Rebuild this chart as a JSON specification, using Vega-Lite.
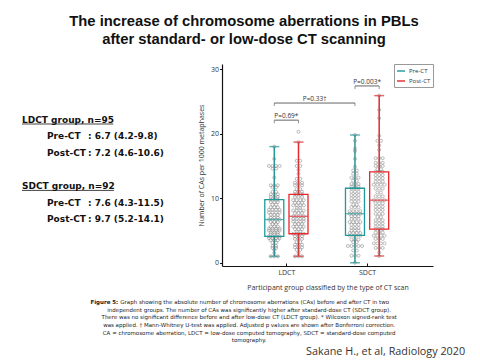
{
"$schema":"https://vega.github.io/schema/vega-lite/v6.json",
"background":"white",
"padding":{"left":0,"top":14,"right":0,"bottom":0},
"title":{"text":["The increase of chromosome aberrations in PBLs","after standard- or low-dose CT scanning"],"font":"Liberation Sans","fontSize":14.8,"fontWeight":"bold","color":"#111","anchor":"middle","lineHeight":18,"offset":16.7,"dx":4},
"config":{"view":{"stroke":null},"font":"Open Sans","axis":{"grid":false,"labelOverlap":false,"domainColor":"#111","domainWidth":1.2,"tickColor":"#111","labelFont":"Open Sans","labelFontSize":7,"labelColor":"#333","titleFont":"Open Sans","titleFontSize":7,"titleFontWeight":"normal","titleColor":"#333"}},
"datasets":{
"box":[
{"s":"Pre-CT","g":"LDCT","p":0.85,"lo":1.0,"q1":4.1,"md":6.7,"q3":9.8,"hi":18.0},
{"s":"Post-CT","g":"LDCT","p":1.15,"lo":1.0,"q1":4.5,"md":7.2,"q3":10.6,"hi":18.7},
{"s":"Pre-CT","g":"SDCT","p":1.85,"lo":0.0,"q1":4.25,"md":7.6,"q3":11.55,"hi":19.8},
{"s":"Post-CT","g":"SDCT","p":2.15,"lo":1.05,"q1":5.2,"md":9.7,"q3":14.1,"hi":25.9}],
"br":[
{"a":0.85,"b":1.15,"m":1.0,"y":22.1,"t":"P=0.69*"},
{"a":0.85,"b":1.85,"m":1.35,"y":24.75,"t":"P=0.33†"},
{"a":1.85,"b":2.15,"m":2.0,"y":27.4,"t":"P=0.003*"}],
"left":[
{"r":1,"c":0,"t":"LDCT group, n=95"},
{"r":2,"c":1,"t":"Pre-CT"},{"r":2,"c":2.64,"t":": 6.7 (4.2-9.8)"},
{"r":3,"c":1,"t":"Post-CT"},{"r":3,"c":2.64,"t":": 7.2 (4.6-10.6)"},
{"r":5,"c":0,"t":"SDCT group, n=92"},
{"r":6,"c":1,"t":"Pre-CT"},{"r":6,"c":2.64,"t":": 7.6 (4.3-11.5)"},
{"r":7,"c":1,"t":"Post-CT"},{"r":7,"c":2.64,"t":": 9.7 (5.2-14.1)"}],
"ul":[{"r":1,"c0":0,"c1":3.65},{"r":5,"c0":0,"c1":3.68}],
"cap":[
{"r":1,"x":0.2465,"t":"Figure 5:","k":"b"},
{"r":1,"x":0.2506,"t":"Graph showing the absolute number of chromosome aberrations (CAs) before and after CT in two","k":"l"},
{"r":2,"x":0.519,"t":"independent groups. The number of CAs was significantly higher after standard-dose CT (SDCT group).","k":"c"},
{"r":3,"x":0.519,"t":"There was no significant difference before and after low-dose CT (LDCT group). * Wilcoxon signed-rank test","k":"c"},
{"r":4,"x":0.519,"t":"was applied. † Mann-Whitney U-test was applied. Adjusted p values are shown after Bonferroni correction.","k":"c"},
{"r":5,"x":0.519,"t":"CA = chromosome aberration, LDCT = low-dose computed tomography, SDCT = standard-dose computed","k":"c"},
{"r":6,"x":0.519,"t":"tomography.","k":"c"},
{"r":7.43,"x":0.969,"t":"Sakane H., et al, Radiology 2020","k":"s"}],
"pts":[
{"x":0.85,"v":18},{"x":0.85,"v":16.1},
{"x":0.784,"v":15},{"x":0.828,"v":15},{"x":0.872,"v":15},{"x":0.916,"v":15},
{"x":0.828,"v":14.6},{"x":0.872,"v":14.6},
{"x":0.85,"v":13.2},
{"x":0.806,"v":12},{"x":0.85,"v":12},{"x":0.894,"v":12},
{"x":0.828,"v":11.7},{"x":0.872,"v":11.7},
{"x":0.828,"v":11},{"x":0.872,"v":11},
{"x":0.806,"v":10.6},{"x":0.85,"v":10.6},{"x":0.894,"v":10.6},
{"x":0.806,"v":10.2},{"x":0.85,"v":10.2},{"x":0.894,"v":10.2},
{"x":0.806,"v":9.8},{"x":0.85,"v":9.8},{"x":0.894,"v":9.8},
{"x":0.806,"v":9.4},{"x":0.85,"v":9.4},{"x":0.894,"v":9.4},
{"x":0.828,"v":9},{"x":0.872,"v":9},
{"x":0.806,"v":8.6},{"x":0.85,"v":8.6},{"x":0.894,"v":8.6},
{"x":0.784,"v":8.2},{"x":0.828,"v":8.2},{"x":0.872,"v":8.2},{"x":0.916,"v":8.2},
{"x":0.784,"v":7.8},{"x":0.828,"v":7.8},{"x":0.872,"v":7.8},{"x":0.916,"v":7.8},
{"x":0.806,"v":7.4},{"x":0.85,"v":7.4},{"x":0.894,"v":7.4},
{"x":0.806,"v":7},{"x":0.85,"v":7},{"x":0.894,"v":7},
{"x":0.784,"v":6.7},{"x":0.828,"v":6.7},{"x":0.872,"v":6.7},{"x":0.916,"v":6.7},
{"x":0.806,"v":6.3},{"x":0.85,"v":6.3},{"x":0.894,"v":6.3},
{"x":0.828,"v":6},{"x":0.872,"v":6},
{"x":0.806,"v":5.6},{"x":0.85,"v":5.6},{"x":0.894,"v":5.6},
{"x":0.784,"v":5.3},{"x":0.828,"v":5.3},{"x":0.872,"v":5.3},{"x":0.916,"v":5.3},
{"x":0.784,"v":5},{"x":0.828,"v":5},{"x":0.872,"v":5},{"x":0.916,"v":5},
{"x":0.806,"v":4.7},{"x":0.85,"v":4.7},{"x":0.894,"v":4.7},
{"x":0.806,"v":4.4},{"x":0.85,"v":4.4},{"x":0.894,"v":4.4},
{"x":0.784,"v":4.1},{"x":0.828,"v":4.1},{"x":0.872,"v":4.1},{"x":0.916,"v":4.1},
{"x":0.784,"v":3.8},{"x":0.828,"v":3.8},{"x":0.872,"v":3.8},{"x":0.916,"v":3.8},
{"x":0.806,"v":3.5},{"x":0.85,"v":3.5},{"x":0.894,"v":3.5},
{"x":0.828,"v":3.1},{"x":0.872,"v":3.1},
{"x":0.828,"v":2.6},{"x":0.872,"v":2.6},
{"x":0.828,"v":2.3},{"x":0.872,"v":2.3},
{"x":0.85,"v":2},{"x":0.85,"v":1.5},
{"x":0.806,"v":1},{"x":0.85,"v":1},{"x":0.894,"v":1},
{"x":1.15,"v":20.3},{"x":1.15,"v":18.7},
{"x":1.128,"v":15.8},{"x":1.172,"v":15.8},
{"x":1.128,"v":15},{"x":1.172,"v":15},
{"x":1.15,"v":14.4},{"x":1.15,"v":13.8},
{"x":1.128,"v":13},{"x":1.172,"v":13},
{"x":1.106,"v":12.4},{"x":1.15,"v":12.4},{"x":1.194,"v":12.4},
{"x":1.106,"v":12},{"x":1.15,"v":12},{"x":1.194,"v":12},
{"x":1.128,"v":11.4},{"x":1.172,"v":11.4},
{"x":1.106,"v":11},{"x":1.15,"v":11},{"x":1.194,"v":11},
{"x":1.106,"v":10.6},{"x":1.15,"v":10.6},{"x":1.194,"v":10.6},
{"x":1.106,"v":10.2},{"x":1.15,"v":10.2},{"x":1.194,"v":10.2},
{"x":1.084,"v":9.7},{"x":1.128,"v":9.7},{"x":1.172,"v":9.7},{"x":1.216,"v":9.7},
{"x":1.106,"v":9.3},{"x":1.15,"v":9.3},{"x":1.194,"v":9.3},
{"x":1.084,"v":8.9},{"x":1.128,"v":8.9},{"x":1.172,"v":8.9},{"x":1.216,"v":8.9},
{"x":1.128,"v":8.5},{"x":1.172,"v":8.5},
{"x":1.084,"v":8.1},{"x":1.128,"v":8.1},{"x":1.172,"v":8.1},{"x":1.216,"v":8.1},
{"x":1.106,"v":7.7},{"x":1.15,"v":7.7},{"x":1.194,"v":7.7},
{"x":1.084,"v":7.2},{"x":1.128,"v":7.2},{"x":1.172,"v":7.2},{"x":1.216,"v":7.2},
{"x":1.084,"v":6.8},{"x":1.128,"v":6.8},{"x":1.172,"v":6.8},{"x":1.216,"v":6.8},
{"x":1.084,"v":6.4},{"x":1.128,"v":6.4},{"x":1.172,"v":6.4},{"x":1.216,"v":6.4},
{"x":1.106,"v":6},{"x":1.15,"v":6},{"x":1.194,"v":6},
{"x":1.084,"v":5.6},{"x":1.128,"v":5.6},{"x":1.172,"v":5.6},{"x":1.216,"v":5.6},
{"x":1.106,"v":5.2},{"x":1.15,"v":5.2},{"x":1.194,"v":5.2},
{"x":1.128,"v":4.8},{"x":1.172,"v":4.8},
{"x":1.084,"v":4.5},{"x":1.128,"v":4.5},{"x":1.172,"v":4.5},{"x":1.216,"v":4.5},
{"x":1.106,"v":4.1},{"x":1.15,"v":4.1},{"x":1.194,"v":4.1},
{"x":1.106,"v":3.7},{"x":1.15,"v":3.7},{"x":1.194,"v":3.7},
{"x":1.128,"v":3.2},{"x":1.172,"v":3.2},
{"x":1.106,"v":2.8},{"x":1.15,"v":2.8},{"x":1.194,"v":2.8},
{"x":1.106,"v":2.4},{"x":1.15,"v":2.4},{"x":1.194,"v":2.4},
{"x":1.128,"v":2},{"x":1.172,"v":2},
{"x":1.15,"v":1.5},
{"x":1.106,"v":1},{"x":1.15,"v":1},{"x":1.194,"v":1},
{"x":1.85,"v":19.8},{"x":1.85,"v":18.9},{"x":1.85,"v":17.7},{"x":1.85,"v":17.3},{"x":1.85,"v":16.1},{"x":1.85,"v":14.9},
{"x":1.828,"v":14.3},{"x":1.872,"v":14.3},
{"x":1.828,"v":13.8},{"x":1.872,"v":13.8},
{"x":1.806,"v":13.2},{"x":1.85,"v":13.2},{"x":1.894,"v":13.2},
{"x":1.828,"v":12.7},{"x":1.872,"v":12.7},
{"x":1.806,"v":12.2},{"x":1.85,"v":12.2},{"x":1.894,"v":12.2},
{"x":1.806,"v":11.8},{"x":1.85,"v":11.8},{"x":1.894,"v":11.8},
{"x":1.806,"v":11.5},{"x":1.85,"v":11.5},{"x":1.894,"v":11.5},
{"x":1.806,"v":11},{"x":1.85,"v":11},{"x":1.894,"v":11},
{"x":1.806,"v":10.5},{"x":1.85,"v":10.5},{"x":1.894,"v":10.5},
{"x":1.806,"v":10},{"x":1.85,"v":10},{"x":1.894,"v":10},
{"x":1.806,"v":9.5},{"x":1.85,"v":9.5},{"x":1.894,"v":9.5},
{"x":1.828,"v":9},{"x":1.872,"v":9},
{"x":1.806,"v":8.6},{"x":1.85,"v":8.6},{"x":1.894,"v":8.6},
{"x":1.784,"v":8},{"x":1.828,"v":8},{"x":1.872,"v":8},{"x":1.916,"v":8},
{"x":1.784,"v":7.6},{"x":1.828,"v":7.6},{"x":1.872,"v":7.6},{"x":1.916,"v":7.6},
{"x":1.806,"v":7.2},{"x":1.85,"v":7.2},{"x":1.894,"v":7.2},
{"x":1.806,"v":6.8},{"x":1.85,"v":6.8},{"x":1.894,"v":6.8},
{"x":1.784,"v":6.3},{"x":1.828,"v":6.3},{"x":1.872,"v":6.3},{"x":1.916,"v":6.3},
{"x":1.806,"v":5.9},{"x":1.85,"v":5.9},{"x":1.894,"v":5.9},
{"x":1.806,"v":5.4},{"x":1.85,"v":5.4},{"x":1.894,"v":5.4},
{"x":1.806,"v":5},{"x":1.85,"v":5},{"x":1.894,"v":5},
{"x":1.784,"v":4.6},{"x":1.828,"v":4.6},{"x":1.872,"v":4.6},{"x":1.916,"v":4.6},
{"x":1.784,"v":4.2},{"x":1.828,"v":4.2},{"x":1.872,"v":4.2},{"x":1.916,"v":4.2},
{"x":1.806,"v":3.6},{"x":1.85,"v":3.6},{"x":1.894,"v":3.6},
{"x":1.828,"v":3.2},{"x":1.872,"v":3.2},
{"x":1.762,"v":2.6},{"x":1.806,"v":2.6},{"x":1.85,"v":2.6},{"x":1.894,"v":2.6},{"x":1.938,"v":2.6},
{"x":1.828,"v":1.9},{"x":1.872,"v":1.9},
{"x":1.806,"v":1.1},{"x":1.85,"v":1.1},{"x":1.894,"v":1.1},
{"x":1.85,"v":0},
{"x":2.15,"v":25.9},{"x":2.15,"v":23.7},{"x":2.15,"v":22.4},{"x":2.15,"v":19.7},
{"x":2.128,"v":18.9},{"x":2.172,"v":18.9},
{"x":2.15,"v":18.2},{"x":2.15,"v":17.5},
{"x":2.106,"v":16.2},{"x":2.15,"v":16.2},{"x":2.194,"v":16.2},
{"x":2.106,"v":15.5},{"x":2.15,"v":15.5},{"x":2.194,"v":15.5},
{"x":2.106,"v":15},{"x":2.15,"v":15},{"x":2.194,"v":15},
{"x":2.128,"v":14.5},{"x":2.172,"v":14.5},
{"x":2.106,"v":14.1},{"x":2.15,"v":14.1},{"x":2.194,"v":14.1},
{"x":2.106,"v":13.6},{"x":2.15,"v":13.6},{"x":2.194,"v":13.6},
{"x":2.106,"v":13.1},{"x":2.15,"v":13.1},{"x":2.194,"v":13.1},
{"x":2.106,"v":12.6},{"x":2.15,"v":12.6},{"x":2.194,"v":12.6},
{"x":2.084,"v":12.1},{"x":2.128,"v":12.1},{"x":2.172,"v":12.1},{"x":2.216,"v":12.1},
{"x":2.106,"v":11.5},{"x":2.15,"v":11.5},{"x":2.194,"v":11.5},
{"x":2.128,"v":10.9},{"x":2.172,"v":10.9},
{"x":2.106,"v":10.3},{"x":2.15,"v":10.3},{"x":2.194,"v":10.3},
{"x":2.084,"v":9.7},{"x":2.128,"v":9.7},{"x":2.172,"v":9.7},{"x":2.216,"v":9.7},
{"x":2.106,"v":9.2},{"x":2.15,"v":9.2},{"x":2.194,"v":9.2},
{"x":2.106,"v":8.7},{"x":2.15,"v":8.7},{"x":2.194,"v":8.7},
{"x":2.106,"v":8.2},{"x":2.15,"v":8.2},{"x":2.194,"v":8.2},
{"x":2.106,"v":7.6},{"x":2.15,"v":7.6},{"x":2.194,"v":7.6},
{"x":2.128,"v":7.1},{"x":2.172,"v":7.1},
{"x":2.106,"v":6.6},{"x":2.15,"v":6.6},{"x":2.194,"v":6.6},
{"x":2.106,"v":6.1},{"x":2.15,"v":6.1},{"x":2.194,"v":6.1},
{"x":2.106,"v":5.6},{"x":2.15,"v":5.6},{"x":2.194,"v":5.6},
{"x":2.106,"v":5.2},{"x":2.15,"v":5.2},{"x":2.194,"v":5.2},
{"x":2.106,"v":4.7},{"x":2.15,"v":4.7},{"x":2.194,"v":4.7},
{"x":2.084,"v":4.2},{"x":2.128,"v":4.2},{"x":2.172,"v":4.2},{"x":2.216,"v":4.2},
{"x":2.106,"v":3.7},{"x":2.15,"v":3.7},{"x":2.194,"v":3.7},
{"x":2.084,"v":3},{"x":2.128,"v":3},{"x":2.172,"v":3},{"x":2.216,"v":3},
{"x":2.106,"v":2.3},{"x":2.15,"v":2.3},{"x":2.194,"v":2.3},
{"x":2.15,"v":1.6},{"x":2.15,"v":1.05}]
},
"spacing":0,
"resolve":{"legend":{"color":"independent"}},
"vconcat":[
{"spacing":17,"resolve":{"legend":{"color":"independent"}},"hconcat":[
{"width":180,"height":202,
 "layer":[
 {"data":{"name":"left"},"mark":{"type":"text","align":"left","baseline":"alphabetic","font":"DejaVu Sans","fontWeight":"bold","fontSize":9,"color":"#111"},
  "encoding":{"x":{"field":"c","type":"quantitative","scale":{"domain":[-0.88,6.32],"nice":false,"zero":false},"axis":null},
   "y":{"field":"r","type":"quantitative","scale":{"domain":[-2.536,9.633],"reverse":true,"nice":false,"zero":false},"axis":null},
   "text":{"field":"t"}}},
 {"data":{"name":"ul"},"mark":{"type":"rule","strokeWidth":0.8,"color":"#111","yOffset":1.3},
  "encoding":{"x":{"field":"c0","type":"quantitative","scale":{"domain":[-0.88,6.32],"nice":false,"zero":false},"axis":null},"x2":{"field":"c1"},
   "y":{"field":"r","type":"quantitative","scale":{"domain":[-2.536,9.633],"reverse":true,"nice":false,"zero":false},"axis":null}}}
 ]},
{"width":211,"height":202,
 "layer":[
 {"data":{"name":"box"},"mark":{"type":"rule","strokeWidth":1.5},
  "encoding":{
   "x":{"field":"p","type":"quantitative","scale":{"domain":[0.264,2.755],"nice":false,"zero":false},"title":"Participant group classified by the type of CT scan",
        "axis":{"values":[1,2],"labelExpr":"datum.value == 1 ? 'LDCT' : 'SDCT'","tickSize":-3,"labelPadding":5,"titlePadding":8}},
   "y":{"field":"lo","type":"quantitative","scale":{"domain":[-0.5,30.8],"nice":false,"zero":false},"title":"Number of CAs per 1000 metaphases",
        "axis":{"values":[0,5,10,15,20,25,30],"tickSize":2.5,"labelPadding":1,"titlePadding":6}},
   "y2":{"field":"q1"},
   "color":{"field":"s","type":"nominal","scale":{"domain":["Pre-CT","Post-CT"],"range":["#1f9a9a","#e8262b"]},
      "legend":{"title":null,"orient":"top-right","offset":0,"symbolType":"stroke","symbolStrokeWidth":2,"symbolSize":64,"labelFontSize":6,"labelFont":"Open Sans","labelColor":"#333","fillColor":"white","strokeColor":"#999","padding":2,"rowPadding":1,"labelOffset":3}}}},
 {"data":{"name":"box"},"mark":{"type":"rule","strokeWidth":1.5},
  "encoding":{"x":{"field":"p","type":"quantitative","title":"Participant group classified by the type of CT scan"},"y":{"field":"q3","type":"quantitative","title":"Number of CAs per 1000 metaphases"},"y2":{"field":"hi"},"color":{"field":"s","type":"nominal"}}},
 {"data":{"name":"box"},"transform":[{"fold":["lo","hi"],"as":["w","wv"]}],"mark":{"type":"tick","orient":"horizontal","size":10,"thickness":1.5},
  "encoding":{"x":{"field":"p","type":"quantitative","title":"Participant group classified by the type of CT scan"},"y":{"field":"wv","type":"quantitative","title":"Number of CAs per 1000 metaphases"},"color":{"field":"s","type":"nominal"}}},
 {"data":{"name":"pts"},"mark":{"type":"point","shape":"circle","filled":false,"size":9,"strokeWidth":0.7,"color":"#777"},
  "encoding":{"x":{"field":"x","type":"quantitative","title":"Participant group classified by the type of CT scan"},"y":{"field":"v","type":"quantitative","title":"Number of CAs per 1000 metaphases"}}},
 {"data":{"name":"box"},"mark":{"type":"bar","filled":false,"width":19,"strokeWidth":1.3},
  "encoding":{"x":{"field":"p","type":"quantitative","title":"Participant group classified by the type of CT scan"},"y":{"field":"q1","type":"quantitative","title":"Number of CAs per 1000 metaphases"},"y2":{"field":"q3"},"color":{"field":"s","type":"nominal"}}},
 {"data":{"name":"box"},"mark":{"type":"tick","orient":"horizontal","size":19,"thickness":1.3},
  "encoding":{"x":{"field":"p","type":"quantitative","title":"Participant group classified by the type of CT scan"},"y":{"field":"md","type":"quantitative","title":"Number of CAs per 1000 metaphases"},"color":{"field":"s","type":"nominal"}}},
 {"data":{"name":"br"},"mark":{"type":"rule","color":"#555","strokeWidth":0.9},
  "encoding":{"x":{"field":"a","type":"quantitative","title":"Participant group classified by the type of CT scan"},"x2":{"field":"b"},"y":{"field":"y","type":"quantitative","title":"Number of CAs per 1000 metaphases"}}},
 {"data":{"name":"br"},"transform":[{"fold":["a","b"],"as":["e","ex"]}],"mark":{"type":"tick","orient":"vertical","size":3,"thickness":0.9,"color":"#555","yOffset":1.5},
  "encoding":{"x":{"field":"ex","type":"quantitative","title":"Participant group classified by the type of CT scan"},"y":{"field":"y","type":"quantitative","title":"Number of CAs per 1000 metaphases"}}},
 {"data":{"name":"br"},"mark":{"type":"text","fontSize":6.5,"font":"Open Sans","baseline":"alphabetic","dy":-2,"color":"#333"},
  "encoding":{"x":{"field":"m","type":"quantitative","title":"Participant group classified by the type of CT scan"},"y":{"field":"y","type":"quantitative","title":"Number of CAs per 1000 metaphases"},"text":{"field":"t"}}}
 ]}
]},
{"width":480,"height":68,
 "layer":[
 {"data":{"name":"cap"},"transform":[{"filter":"datum.k == 'b'"}],"mark":{"type":"text","align":"right","baseline":"middle","font":"DejaVu Sans","fontWeight":"bold","fontSize":5.5,"color":"#222"},
  "encoding":{"x":{"field":"x","type":"quantitative","scale":{"domain":[0,1],"nice":false,"zero":false},"axis":null},"y":{"field":"r","type":"quantitative","scale":{"domain":[-0.558,8.273],"reverse":true,"nice":false,"zero":false},"axis":null},"text":{"field":"t"}}},
 {"data":{"name":"cap"},"transform":[{"filter":"datum.k == 'l'"}],"mark":{"type":"text","align":"left","baseline":"middle","font":"DejaVu Sans","fontSize":5.5,"color":"#222"},
  "encoding":{"x":{"field":"x","type":"quantitative","axis":null},"y":{"field":"r","type":"quantitative","axis":null},"text":{"field":"t"}}},
 {"data":{"name":"cap"},"transform":[{"filter":"datum.k == 'c'"}],"mark":{"type":"text","align":"center","baseline":"middle","font":"DejaVu Sans","fontSize":5.5,"color":"#222"},
  "encoding":{"x":{"field":"x","type":"quantitative","axis":null},"y":{"field":"r","type":"quantitative","axis":null},"text":{"field":"t"}}},
 {"data":{"name":"cap"},"transform":[{"filter":"datum.k == 's'"}],"mark":{"type":"text","align":"right","baseline":"middle","font":"Open Sans","fontSize":10.8,"color":"#333"},
  "encoding":{"x":{"field":"x","type":"quantitative","axis":null},"y":{"field":"r","type":"quantitative","axis":null},"text":{"field":"t"}}}
 ]}
]
}
